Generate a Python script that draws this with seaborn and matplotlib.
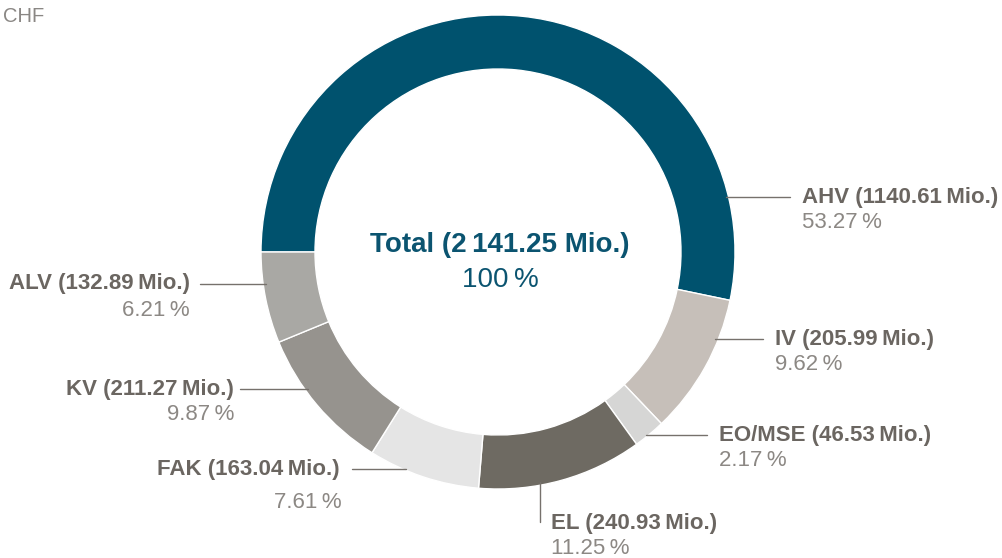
import matplotlib
matplotlib.use('Agg')
import matplotlib.pyplot as plt
import numpy as np
import seaborn as sns

# Data
categories = ['AHV', 'IV', 'EO/MSE', 'EL', 'FAK', 'KV', 'ALV']
amounts = [1140.61, 205.99, 46.53, 240.93, 163.04, 211.27, 132.89]
shares = [53.27, 9.62, 2.17, 11.25, 7.61, 9.87, 6.21]
total_amount = 2141.25
colors = ['#00526e', '#c6bfb9', '#d6d6d5', '#6e6a62', '#e5e5e5', '#96938e', '#a9a8a4']

sns.set_theme(style='white')
plt.rcParams['font.family'] = ['Liberation Sans', 'DejaVu Sans']

W, H = 1002, 558
fig = plt.figure(figsize=(W / 100, H / 100), dpi=100)
ax = fig.add_axes([0, 0, 1, 1])

# ring geometry in pixels (y measured from top)
cx, cy, r_out, ring = 498, 252, 237, 54

ax.pie(shares, colors=colors, startangle=180, counterclock=False,
       center=(cx, H - cy), radius=r_out,
       wedgeprops=dict(width=ring, edgecolor='white', linewidth=1))
ax.set_xlim(0, W)
ax.set_ylim(0, H)
ax.set_aspect('equal')
ax.axis('off')

label_col = '#6b6661'
pct_col = '#8c8884'
line_col = '#76716c'
fs = 16

def fmt(v):
    return f'{v:.2f}'

# label layout: (text x, text y, align, line end x, pct y offset) in pixels
layout = {
    'AHV': (802, 197, 'left', 790, 25),
    'IV': (775, 339, 'left', 763, 25),
    'EO/MSE': (719, 435, 'left', 707, 26),
    'FAK': (340, 469, 'right', 352, 33),
    'KV': (234, 389, 'right', 240, 25),
    'ALV': (190, 284, 'right', 200, 26),
}

for name, amt, pct in zip(categories, amounts, shares):
    if name == 'EL':
        tx, ty, ha, off = 551, 523, 'left', 26
        lx = 540
        y0 = cy + np.sqrt(r_out ** 2 - (lx - cx) ** 2) - 3
        ax.plot([lx, lx], [H - y0, H - 522], color=line_col, lw=1)
    else:
        tx, ty, ha, lend, off = layout[name]
        dx = np.sqrt(r_out ** 2 - (ty - cy) ** 2) - 3
        x0 = cx + dx if ha == 'left' else cx - dx
        ax.plot([x0, lend], [H - ty, H - ty], color=line_col, lw=1)
    ax.text(tx, H - ty, f'{name} ({fmt(amt)}\u2009Mio.)', ha=ha, va='center',
            fontsize=fs, fontweight='bold', color=label_col)
    px = tx + 2 if (ha == 'right' and name == 'FAK') else tx
    ax.text(px, H - ty - off, f'{fmt(pct)}\u2009%', ha=ha, va='center',
            fontsize=fs, color=pct_col)

# centre text
ax.text(500, H - 245, f'Total (2\u2009141.25 Mio.)', ha='center', va='center',
        fontsize=20, fontweight='bold', color='#0b5470')
ax.text(500, H - 280, '100\u2009%', ha='center', va='center',
        fontsize=20, color='#0b5470')

ax.text(3, H - 16, 'CHF', ha='left', va='center', fontsize=14.5, color='#8a8784')

fig.savefig('out.png', dpi=100)
